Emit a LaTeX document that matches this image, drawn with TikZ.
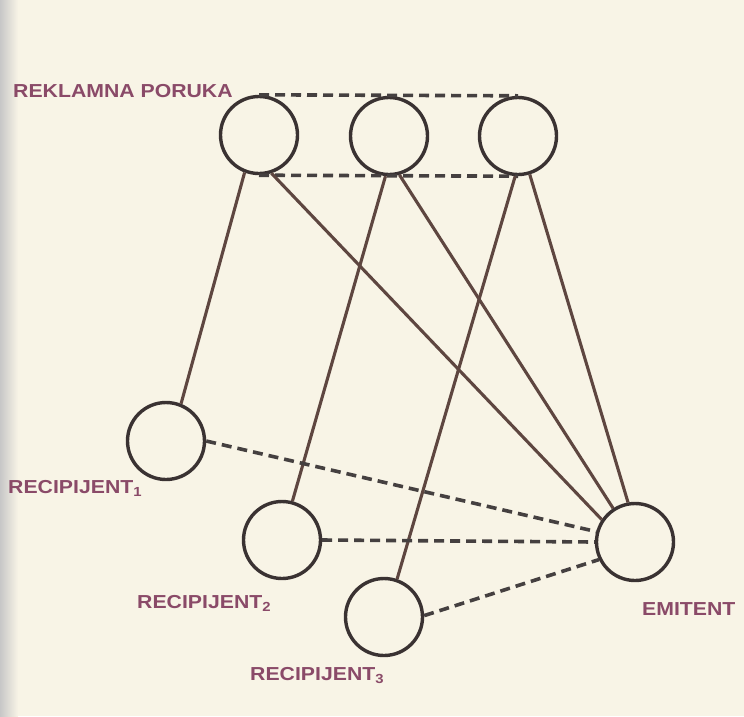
\documentclass[tikz,border=0pt]{standalone}
\usepackage{fontspec}
\setmainfont{Liberation Sans}
\usetikzlibrary{positioning}
\definecolor{bg}{HTML}{F8F4E6}
\definecolor{ring}{HTML}{3A3232}
\definecolor{wire}{HTML}{5E4640}
\definecolor{dash}{HTML}{454040}
\definecolor{lab}{HTML}{8A4A68}
\tikzset{
  circ/.style={circle,draw=ring,line width=3.4pt,minimum size=77pt,inner sep=0pt},
  wireline/.style={draw=wire,line width=3.1pt},
  dashline/.style={draw=dash,line width=3.6pt,dash pattern=on 10pt off 6pt},
  lbl/.style={anchor=base west,inner sep=0pt,text=lab,font=\fontsize{18.8pt}{20pt}\selectfont\bfseries}
}
\newcommand{\wide}[1]{\scalebox{1.13}[1]{#1}}
\begin{document}
\begin{tikzpicture}[x=1pt,y=-1pt]
\fill[bg] (0,0) rectangle (744,716);
\shade[left color=black!22, right color=bg] (0,0) rectangle (18,716);
\useasboundingbox (0,0) rectangle (744,716);
% nodes
\node[circ] (m1) at (259,135) {};
\node[circ] (m2) at (389,136) {};
\node[circ] (m3) at (518,136) {};
\node[circ] (r1) at (166,441) {};
\node[circ] (r2) at (282,540) {};
\node[circ] (r3) at (384,617) {};
\node[circ] (em) at (635,542) {};
% labels
\node[lbl] (tm) at (13,97) {\wide{REKLAMNA PORUKA}};
\node[lbl] (t1) at (8,493) {\wide{RECIPIJENT\textsubscript{1}}};
\node[lbl] (t2) at (137,608) {\wide{RECIPIJENT\textsubscript{2}}};
\node[lbl] (t3) at (250,680) {\wide{RECIPIJENT\textsubscript{3}}};
\node[lbl] (te) at (642,615) {\wide{EMITENT}};
% dashed links between messages
\draw[dashline] (m1.north) -- (m3.north);
\draw[dashline] (m1.south) -- (m3.south);
% solid links
\draw[wireline] (m1.-111) -- (r1.68);
\draw[wireline] (m2.-95) -- (r2.75);
\draw[wireline] (m3.-94) -- (r3.71);
\draw[wireline] (m1.-72) -- (em.146);
\draw[wireline] (m2.-75) -- (em.123);
\draw[wireline] (m3.-73) -- (em.100);
% dashed links to emitent
\draw[dashline] (r1.0) -- (em.165);
\draw[dashline] (r2.0) -- (em.180);
\draw[dashline] (r3.2) -- (em.206);
\end{tikzpicture}
\end{document}
